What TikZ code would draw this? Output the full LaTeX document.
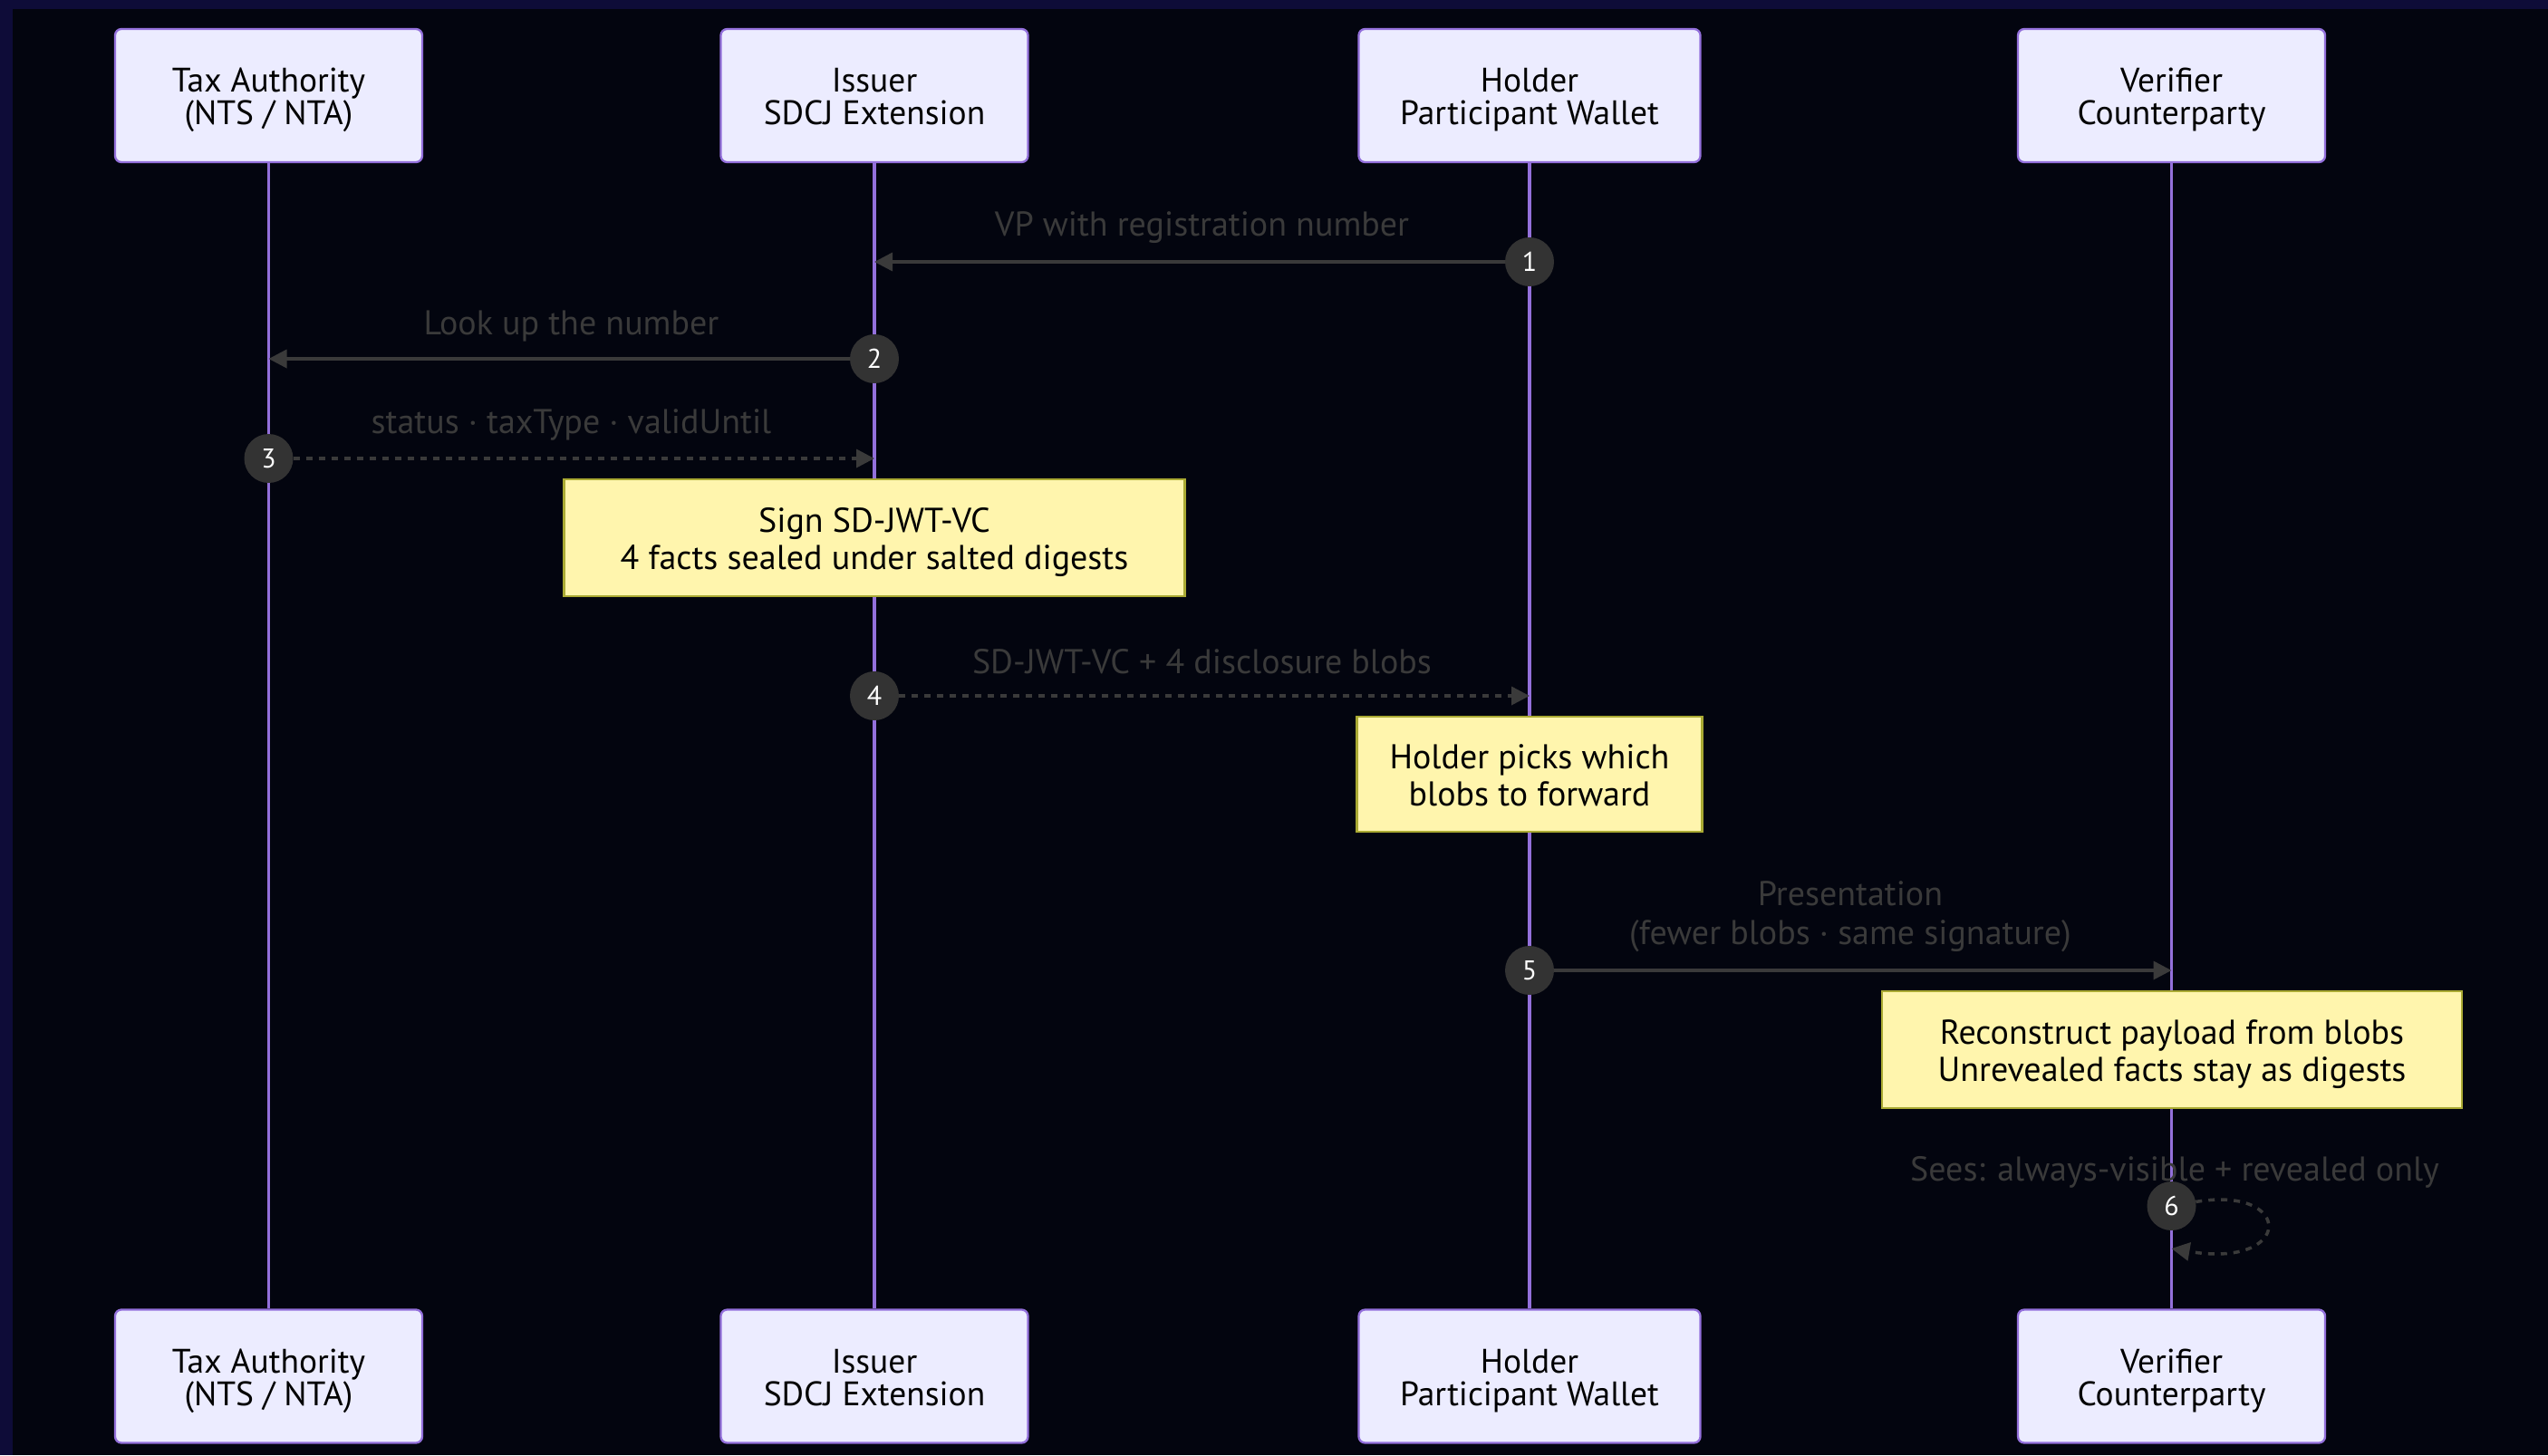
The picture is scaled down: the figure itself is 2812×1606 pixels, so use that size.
\documentclass[tikz,border=0pt]{standalone}
\usepackage{fontspec}
\setmainfont{PT Sans}
\usetikzlibrary{arrows.meta}
\definecolor{bgc}{HTML}{03050F}
\definecolor{framec}{HTML}{0E0C38}
\definecolor{actfill}{HTML}{ECECFF}
\definecolor{actdraw}{HTML}{9370DB}
\definecolor{lifec}{HTML}{9370DB}
\definecolor{notefill}{HTML}{FFF5AD}
\definecolor{notedraw}{HTML}{AAAA33}
\definecolor{msgc}{HTML}{3A3A3A}
\definecolor{numc}{HTML}{333333}
\newcommand{\topstrt}{\rule{0pt}{37pt}}
\newcommand{\botstrt}{\rule[-9pt]{0pt}{9pt}}
\begin{document}
\begin{tikzpicture}[x=1pt,y=-1pt,
  actor/.style={draw=actdraw, fill=actfill, line width=2.3pt, rounded corners=7pt,
    minimum width=339pt, minimum height=147pt, align=center, inner sep=0pt,
    text=black, font=\fontsize{37.5}{36}\selectfont},
  note/.style={draw=notedraw, fill=notefill, line width=2.3pt, align=center,
    inner sep=0pt, text=black, font=\fontsize{38}{41}\selectfont},
  life/.style={draw=lifec, line width=3.5pt},
  msg/.style={draw=msgc, line width=3.5pt, -{Triangle[length=20pt,width=20pt]}},
  dmsg/.style={msg, dash pattern=on 7pt off 7pt},
  lbl/.style={text=msgc, align=center, inner sep=0pt, font=\fontsize{38}{43}\selectfont},
  num/.style={circle, fill=numc, minimum size=54pt, inner sep=0pt, text=white,
    font=\fontsize{30}{30}\selectfont}]
% background
\fill[bgc] (0,0) rectangle (2812,1606);
\fill[framec] (0,0) rectangle (2812,10);
\fill[framec] (0,0) rectangle (14,1606);
\useasboundingbox (0,0) rectangle (2812,1606);

% actors
\node[actor] (taxT) at (296.5,105.5) {\topstrt Tax Authority\\(NTS / NTA)\botstrt};
\node[actor] (issT) at (965,105.5) {\topstrt Issuer\\SDCJ Extension\botstrt};
\node[actor, minimum width=377pt] (holT) at (1688,105.5) {\topstrt Holder\\Participant Wallet\botstrt};
\node[actor] (verT) at (2396.5,105.5) {\topstrt Verifier\\Counterparty\botstrt};
\node[actor] (taxB) at (296.5,1519) {\topstrt Tax Authority\\(NTS / NTA)\botstrt};
\node[actor] (issB) at (965,1519) {\topstrt Issuer\\SDCJ Extension\botstrt};
\node[actor, minimum width=377pt] (holB) at (1688,1519) {\topstrt Holder\\Participant Wallet\botstrt};
\node[actor] (verB) at (2396.5,1519) {\topstrt Verifier\\Counterparty\botstrt};

% lifelines
\draw[life] (taxT.south) -- (taxB.north);
\draw[life] (issT.south) -- (issB.north);
\draw[life] (holT.south) -- (holB.north);
\draw[life] (verT.south) -- (verB.north);

% notes
\node[note, minimum width=685pt, minimum height=129pt] (note1) at (965,593.5)
  {\topstrt Sign SD-JWT-VC\\4 facts sealed under salted digests\botstrt};
\node[note, minimum width=381pt, minimum height=127pt] (note2) at (1688,854.5)
  {\topstrt Holder picks which\\blobs to forward\botstrt};
\node[note, minimum width=640pt, minimum height=129pt] (note3) at (2397,1158.5)
  {\topstrt Reconstruct payload from blobs\\Unrevealed facts stay as digests\botstrt};

% message end points
\coordinate (e1) at (965,289);
\coordinate (e2) at (296.5,396);
\coordinate (e3) at (965,506);
\coordinate (e4) at (1688,768);
\coordinate (e5) at (2396.5,1071);
\coordinate (e6) at (2396.5,1378);

% sequence numbers
\node[num] (n1) at (1688,289) {1};
\node[num] (n2) at (965,396) {2};
\node[num] (n3) at (296.5,506) {3};
\node[num] (n4) at (965,768) {4};
\node[num] (n5) at (1688,1071) {5};
\node[num] (n6) at (2396.5,1331) {6};

% messages
\draw[msg] (n1) -- (e1);
\draw[msg] (n2) -- (e2);
\draw[dmsg] (n3) -- (e3);
\draw[dmsg] (n4) -- (e4);
\draw[msg] (n5) -- (e5);
\draw[dmsg] (n6) .. controls (2532,1308) and (2532,1401) .. (e6);

% labels
\node[lbl] (l1) at (1326.5,251) {VP with registration number};
\node[lbl] (l2) at (630.5,360) {Look up the number};
\node[lbl] (l3) at (630.5,469) {status · taxType · validUntil};
\node[lbl] (l4) at (1326.5,730) {SD-JWT-VC + 4 disclosure blobs};
\node[lbl] (l5) at (2042,1012) {Presentation\\(fewer blobs · same signature)};
\node[lbl] (l6) at (2400,1294) {Sees: always-visible + revealed only};
\end{tikzpicture}
\end{document}
